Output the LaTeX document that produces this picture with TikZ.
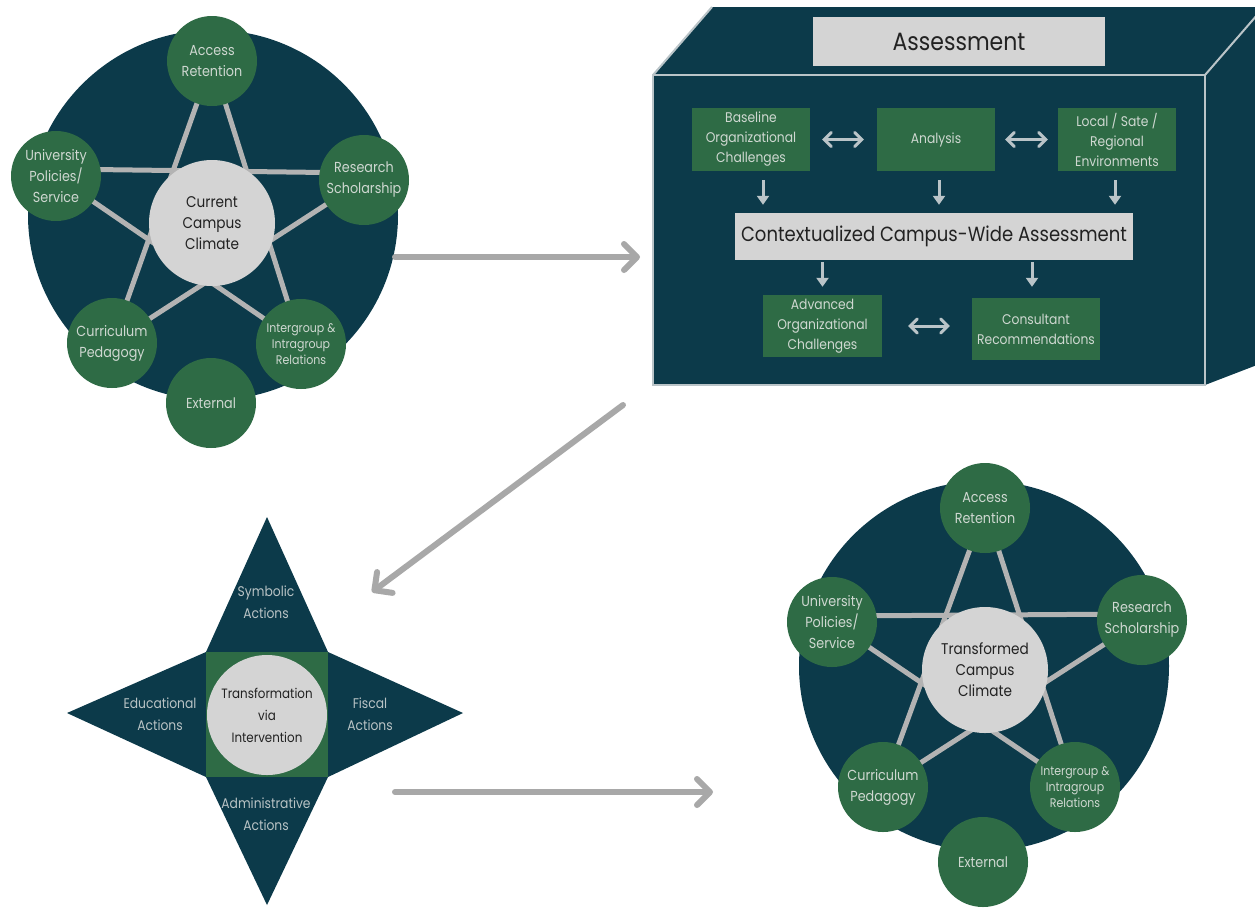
\documentclass[tikz,border=0pt]{standalone}
\usepackage{fontspec}
\setmainfont{Poppins}[FakeStretch=0.88]
\usetikzlibrary{arrows.meta}
\pgfdeclarelayer{back}
\pgfdeclarelayer{lines}
\pgfsetlayers{back,lines,main}
\definecolor{navy}{HTML}{0C3A4A}
\definecolor{grn}{HTML}{2E6B45}
\definecolor{lgray}{HTML}{D4D4D4}
\definecolor{pentline}{HTML}{B3B3B3}
\definecolor{arrowgray}{HTML}{A8A8A8}
\definecolor{gtext}{HTML}{CFD8D1}
\definecolor{stext}{HTML}{B9C3C5}
\definecolor{edgegray}{HTML}{BAC4C8}
\definecolor{darktext}{HTML}{222222}
\tikzset{
  bigcirc/.style={circle, fill=navy, minimum size=370pt, inner sep=0pt},
  outer/.style={circle, fill=grn, minimum size=90pt, inner sep=0pt, align=center, text=gtext, font=\fontsize{14.5}{21}\selectfont},
  outersmall/.style={outer, font=\fontsize{12.5}{16}\selectfont},
  hub/.style={circle, fill=lgray, minimum size=126pt, inner sep=0pt, align=center, text=darktext, font=\fontsize{15.5}{21}\selectfont},
  pent/.style={draw=pentline, line width=5pt},
  bigarrow/.style={draw=arrowgray, line width=6pt, line cap=round, -{Straight Barb[length=13pt,width=26pt,line cap=round,line join=round]}},
  gbox/.style={rectangle, fill=grn, minimum width=118pt, minimum height=63pt, inner sep=1pt, align=center, text=gtext, font=\fontsize{14}{20}\selectfont},
  graybox/.style={rectangle, fill=lgray, inner sep=0pt, text=darktext},
  dblarrow/.style={draw=edgegray, line width=3pt, {Straight Barb[length=7pt,width=14pt,line cap=round]}-{Straight Barb[length=7pt,width=14pt,line cap=round]}},
  downarrow/.style={draw=edgegray, line width=3pt, -{Triangle[length=9pt,width=12pt]}},
  starlabel/.style={align=center, text=stext, font=\fontsize{14}{22}\selectfont},
}
\begin{document}
\begin{tikzpicture}[x=1pt,y=-1pt]
\useasboundingbox (0,0) rectangle (1255,914);
\begin{pgfonlayer}{back}
\fill[white] (0,0) rectangle (1255,914);
\end{pgfonlayer}

% ---------- Top-left: current campus climate ----------
\begin{pgfonlayer}{back}
\node[bigcirc] (bigA) at (213,215) {};
\end{pgfonlayer}
\node[outer] (accA) at (212,61) {Access\\Retention};
\node[outer] (uniA) at (56,176) {University\\Policies/\\Service};
\node[outer] (resA) at (364,180) {Research\\Scholarship};
\node[outer] (curA) at (112,343) {Curriculum\\Pedagogy};
\node[outersmall] (intA) at (301,344) {Intergroup \&\\Intragroup\\Relations};
\node[outer] (extA) at (211,403) {External};
\node[hub] (hubA) at (212,223) {Current\\Campus\\Climate};
\begin{pgfonlayer}{lines}
\draw[pent] (accA.center) -- (curA.center);
\draw[pent] (curA.center) -- (resA.center);
\draw[pent] ([yshift=7pt]resA.center) -- ([yshift=7pt]uniA.center);
\draw[pent] (uniA.center) -- (intA.center);
\draw[pent] (intA.center) -- (accA.center);
\end{pgfonlayer}

% ---------- Assessment box ----------
\begin{scope}
\clip (0,0) rectangle (1255,914);
\fill[navy] (653,75) -- (712,7) -- (1270,7) -- (1205,75) -- cycle;
\fill[navy] (1205,75) -- (1264,7) -- (1270,7) -- (1270,360) -- (1205,385) -- cycle;
\draw[edgegray, line width=2pt] (653,75) -- (712,7);
\draw[edgegray, line width=2pt] (1205,75) -- (1264,7);
\end{scope}
\node[rectangle, fill=navy, draw=edgegray, line width=2.5pt, minimum width=552pt, minimum height=310pt, inner sep=0pt] (front) at (929,230) {};
\node[graybox, minimum width=292pt, minimum height=49pt, font=\fontsize{25}{28}\selectfont] (title) at (959,41.5) {Assessment};
\node[gbox] (base) at (751,139.5) {Baseline\\Organizational\\Challenges};
\node[gbox] (anal) at (936,139.5) {Analysis};
\node[gbox] (local) at (1117,139.5) {Local / Sate /\\Regional\\Environments};
\node[graybox, minimum width=398pt, minimum height=47pt, font=\fontsize{20.5}{24}\selectfont] (ctx) at (934,236.5) {Contextualized Campus-Wide Assessment};
\node[gbox, minimum width=119pt, minimum height=62pt] (adv) at (822.5,326) {Advanced\\Organizational\\Challenges};
\node[gbox, minimum width=128pt, minimum height=62pt] (cons) at (1036,329) {Consultant\\Recommendations};
\draw[dblarrow] ([xshift=12pt]base.east) -- ([xshift=-13pt]anal.west);
\draw[dblarrow] ([xshift=10pt]anal.east) -- ([xshift=-10pt]local.west);
\draw[downarrow, shorten <=9pt, shorten >=8pt] ([xshift=12pt]base.south) -- ([xshift=12pt]base.south |- ctx.north);
\draw[downarrow, shorten <=9pt, shorten >=8pt] ([xshift=3pt]anal.south) -- ([xshift=3pt]anal.south |- ctx.north);
\draw[downarrow, shorten <=9pt, shorten >=8pt] ([xshift=-2pt]local.south) -- ([xshift=-2pt]local.south |- ctx.north);
\draw[downarrow, shorten <=2pt, shorten >=8pt] (adv.north |- ctx.south) -- (adv.north);
\draw[downarrow, shorten <=2pt, shorten >=11pt] ([xshift=-4pt]cons.north |- ctx.south) -- ([xshift=-4pt]cons.north);
\draw[dblarrow] ([xshift=26pt]adv.east) -- ([xshift=-22pt]adv.east -| cons.west);

% ---------- Star: transformation via intervention ----------
\fill[navy] (267,517) -- (328,652) -- (463,713) -- (328,777) -- (267,905) -- (206,777) -- (67,713) -- (206,652) -- cycle;
\node[rectangle, fill=grn, minimum width=122pt, minimum height=125pt, inner sep=0pt] (sq) at (267,714.5) {};
\node[hub, minimum size=120pt, font=\fontsize{13.5}{22}\selectfont] (trans) at (267,715) {Transformation\\via\\Intervention};
\node[starlabel] (symb) at (266,602) {Symbolic\\Actions};
\node[starlabel] (educ) at (160,714) {Educational\\Actions};
\node[starlabel] (fisc) at (370,714) {Fiscal\\Actions};
\node[starlabel] (admin) at (266,814) {Administrative\\Actions};

% ---------- Bottom-right: transformed campus climate ----------
\begin{pgfonlayer}{back}
\node[bigcirc] (bigB) at (984,666) {};
\end{pgfonlayer}
\node[outer] (accB) at (985,508) {Access\\Retention};
\node[outer] (uniB) at (832,622) {University\\Policies/\\Service};
\node[outer] (resB) at (1142,620) {Research\\Scholarship};
\node[outer] (curB) at (883,787) {Curriculum\\Pedagogy};
\node[outersmall] (intB) at (1075,787) {Intergroup \&\\Intragroup\\Relations};
\node[outer] (extB) at (983,862) {External};
\node[hub] (hubB) at (985,670) {Transformed\\Campus\\Climate};
\begin{pgfonlayer}{lines}
\draw[pent] (accB.center) -- (curB.center);
\draw[pent] (curB.center) -- (resB.center);
\draw[pent] ([yshift=6pt]resB.center) -- ([yshift=6pt]uniB.center);
\draw[pent] (uniB.center) -- (intB.center);
\draw[pent] (intB.center) -- (accB.center);
\end{pgfonlayer}

% ---------- Flow arrows ----------
\coordinate (a1s) at (395,257);
\coordinate (a1e) at (640,257);
\coordinate (a2s) at (623,405);
\coordinate (a2e) at (372,592);
\coordinate (a3s) at (395,792);
\coordinate (a3e) at (713,792);
\draw[bigarrow] (a1s) -- (a1e);
\draw[bigarrow] (a2s) -- (a2e);
\draw[bigarrow] (a3s) -- (a3e);
\end{tikzpicture}
\end{document}
